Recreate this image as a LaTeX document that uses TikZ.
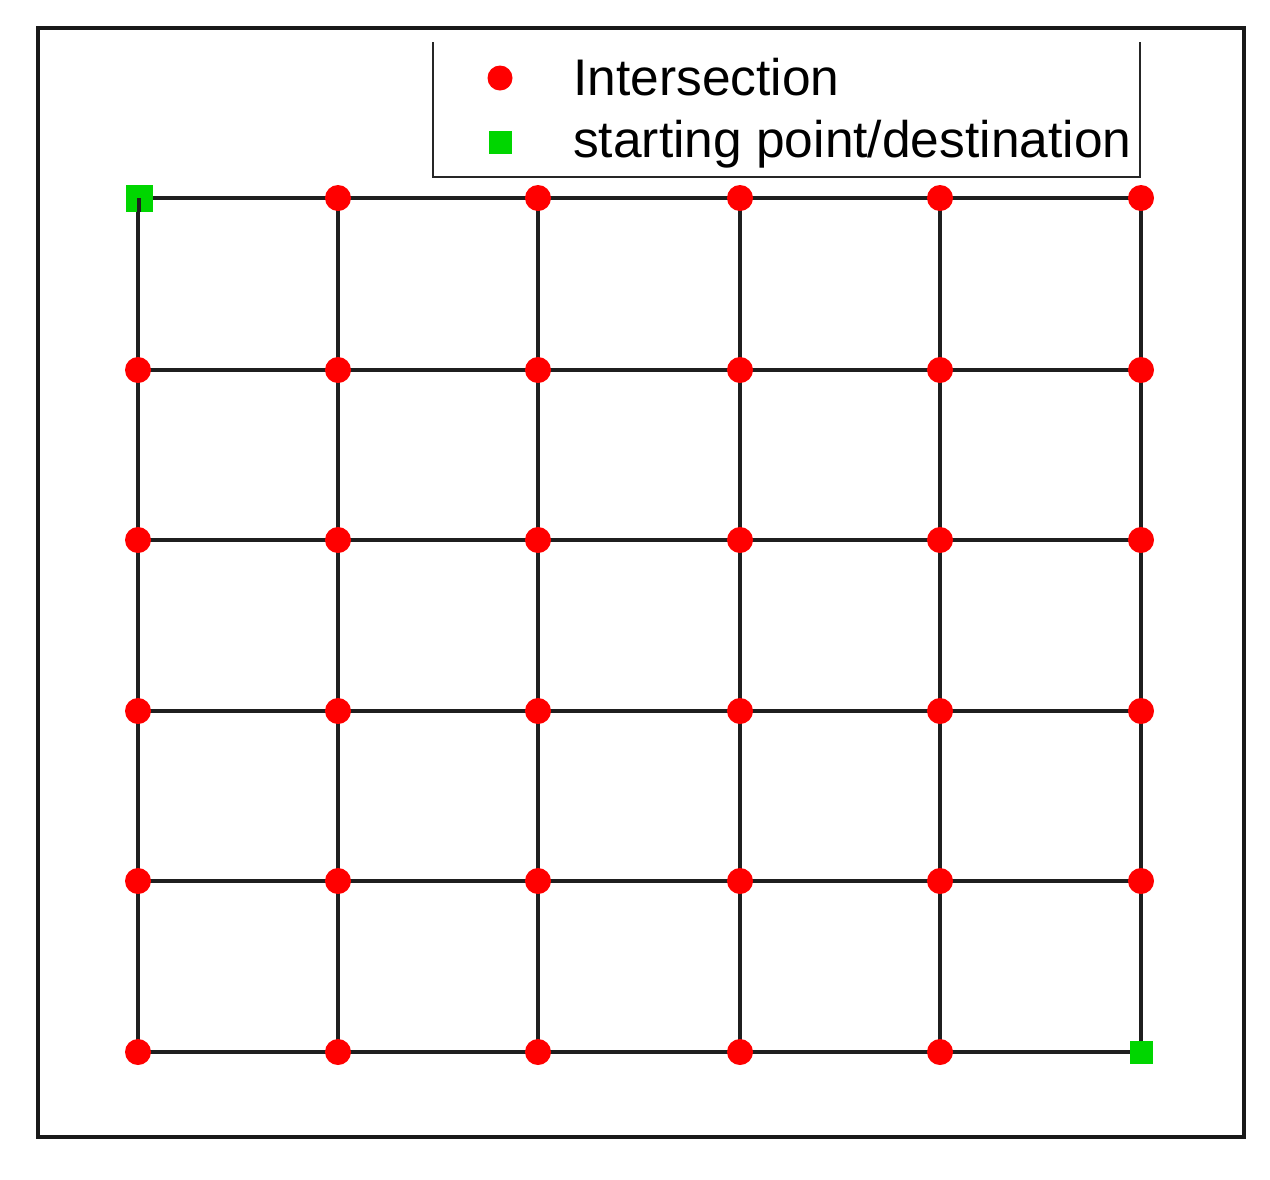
\documentclass[tikz,border=0pt]{standalone}
\usepackage{fontspec}
\setmainfont{Liberation Sans}
\definecolor{dotred}{RGB}{255,0,0}
\definecolor{sqgreen}{RGB}{0,214,0}
\tikzset{
  inter/.style={circle, fill=dotred, draw=none, minimum size=26pt, inner sep=0pt},
  endpt/.style={rectangle, fill=sqgreen, draw=none, minimum size=25pt, inner sep=0pt},
  street/.style={line width=3.2pt, draw=black!88},
  legtext/.style={anchor=base west, inner sep=0pt, font=\fontsize{51.5}{60}\selectfont},
}
\begin{document}
\begin{tikzpicture}[x=1pt, y=-1pt]
\useasboundingbox (0,0) rectangle (1270,1179);
\fill[white] (0,0) rectangle (1270,1179);
% outer frame
\draw[line width=3.6pt, black!90] (38,28) rectangle (1244,1137);
% legend box (open top)
\coordinate (lg1) at (433,42);
\coordinate (lg2) at (433,177);
\coordinate (lg3) at (1140,177);
\coordinate (lg4) at (1140,42);
\draw[line width=2.4pt, black!85] (lg1) -- (lg2) -- (lg3) -- (lg4);
\node[inter, minimum size=25pt] (legdot) at (500,78) {};
\node[endpt, minimum size=23pt] (legsq) at (500,142) {};
\node[legtext] (legt1) at (573,95) {Intersection};
\node[legtext] (legt2) at (573,157) {starting point/destination};
% grid coordinates
\def\xs{{138,338,538,740,940,1141}}
\def\ys{{198,370,540,711,881,1052}}
\foreach \i in {0,...,5} {
  \foreach \j in {0,...,5} {
    \pgfmathsetmacro{\px}{\xs[\j]}
    \pgfmathsetmacro{\py}{\ys[\i]}
    \coordinate (c-\i-\j) at (\px,\py);
  }
}
% streets
\foreach \i in {0,...,5} {
  \foreach \j [evaluate=\j as \k using int(\j+1)] in {0,...,4} {
    \draw[street] (c-\i-\j) -- (c-\i-\k);
    \draw[street] (c-\j-\i) -- (c-\k-\i);
  }
}
% intersections
\foreach \i in {0,...,5} {
  \foreach \j in {0,...,5} {
    \ifnum\i=0 \ifnum\j=0 \else \node[inter] (n-\i-\j) at (c-\i-\j) {}; \fi
    \else \ifnum\i=5 \ifnum\j=5 \else \node[inter] (n-\i-\j) at (c-\i-\j) {}; \fi
    \else \node[inter] (n-\i-\j) at (c-\i-\j) {}; \fi\fi
  }
}
\node[endpt, minimum size=27pt] (start) at (139,198) {};
\draw[street] (start.center) -- (start.south);
\node[endpt, minimum size=23pt] (dest) at (c-5-5) {};
\end{tikzpicture}
\end{document}
